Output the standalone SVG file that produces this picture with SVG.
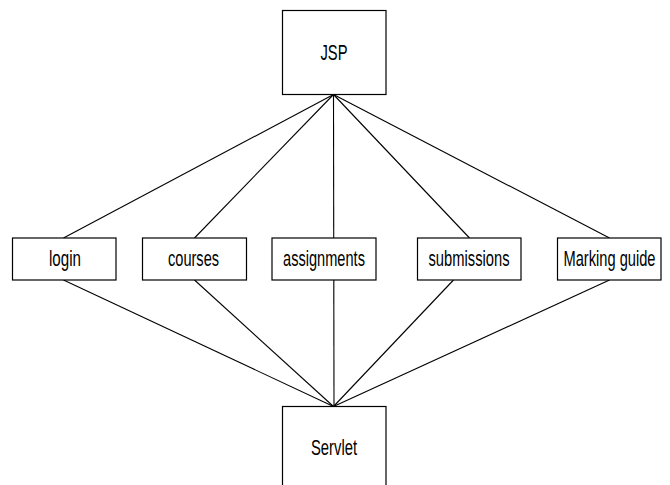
<svg xmlns="http://www.w3.org/2000/svg" width="670" height="485" viewBox="0 0 670 485">
<style>
.box{fill:#fff;stroke:#000;stroke-width:1.2}
.lbl{font-family:"Liberation Sans",Arial,sans-serif;font-size:22px;fill:#000;text-anchor:middle}
.conn line{stroke:#000;stroke-width:1.1}
</style>
<rect width="670" height="485" fill="#fff"/>
<g class="conn" id="connectors">
<line x1="333.5" y1="94.5" x2="63.5" y2="238"/>
<line x1="333.5" y1="94.5" x2="194.5" y2="238"/>
<line x1="333.5" y1="94.5" x2="334" y2="406"/>
<line x1="333.5" y1="94.5" x2="469.5" y2="238"/>
<line x1="333.5" y1="94.5" x2="609.5" y2="238"/>
<line x1="63.5" y1="280" x2="333.5" y2="406.5"/>
<line x1="194.5" y1="280" x2="333.5" y2="406.5"/>
<line x1="453.5" y1="280" x2="333.5" y2="406.5"/>
<line x1="609.5" y1="280" x2="333.5" y2="406.5"/>
</g>
<g id="jsp"><rect class="box" x="282.5" y="10.5" width="103.5" height="84"/><text class="lbl" transform="translate(334 59.5) scale(0.7 1)" textLength="38.6" lengthAdjust="spacingAndGlyphs">JSP</text></g>
<g id="login"><rect class="box" x="12.5" y="238" width="103.5" height="42"/><text class="lbl" transform="translate(65 266) scale(0.7 1)" textLength="45.7" lengthAdjust="spacingAndGlyphs">login</text></g>
<g id="courses"><rect class="box" x="142.5" y="238" width="104" height="42"/><text class="lbl" transform="translate(193.5 266) scale(0.7 1)" textLength="72.9" lengthAdjust="spacingAndGlyphs">courses</text></g>
<g id="assignments"><rect class="box" x="272" y="238" width="104" height="42"/><text class="lbl" transform="translate(324 266) scale(0.7 1)" textLength="117" lengthAdjust="spacingAndGlyphs">assignments</text></g>
<g id="submissions"><rect class="box" x="417.5" y="238" width="103.5" height="42"/><text class="lbl" transform="translate(469 266) scale(0.7 1)" textLength="115.7" lengthAdjust="spacingAndGlyphs">submissions</text></g>
<g id="marking-guide"><rect class="box" x="557.5" y="238" width="103.5" height="42"/><text class="lbl" transform="translate(609.5 266) scale(0.7 1)" textLength="131.4" lengthAdjust="spacingAndGlyphs">Marking guide</text></g>
<g id="servlet"><rect class="box" x="282.5" y="406.5" width="103.5" height="90"/><text class="lbl" transform="translate(334 455) scale(0.7 1)" textLength="65.7" lengthAdjust="spacingAndGlyphs">Servlet</text></g>
</svg>
